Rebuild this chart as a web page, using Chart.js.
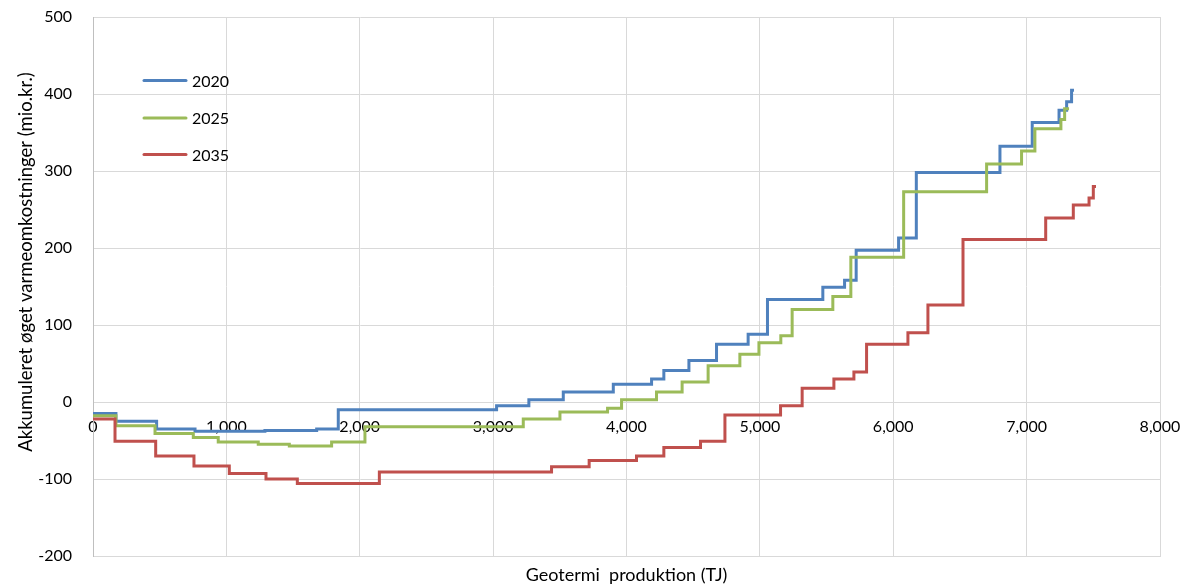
<!DOCTYPE html>
<html>
<head>
<meta charset="utf-8">
<script src="https://cdn.jsdelivr.net/npm/chart.js@4.4.1/dist/chart.umd.min.js"></script>
<style>
  html, body { margin: 0; padding: 0; background: #ffffff; }
  #wrap { width: 1196px; height: 586px; position: relative; }
</style>
</head>
<body>
<div id="wrap"><canvas id="c" width="1196" height="586"></canvas></div>
<script>
// ---- Data ----
const seriesNames = ["2020", "2025", "2035"];
const seriesColors = ["#4F81BD", "#9BBB59", "#C0504D"];

// Step positions (TJ) and the cumulative value reached at each step (mio.kr.)
const x2020 = [0, 172, 477, 765, 1289, 1677, 1839, 3026, 3268, 3526, 3901, 4188, 4280, 4468, 4675, 4912, 5057, 5472, 5635, 5722, 6040, 6173, 6800, 7042, 7243, 7300, 7337, 7355];
const y2020 = [-15, -25, -35, -38, -37, -35, -10, -5, 3, 13, 23, 30, 41, 54, 75, 88, 133, 149, 158, 197, 213, 298, 332, 363, 379, 390, 405, 405];

const x2025 = [0, 172, 465, 752, 939, 1239, 1472, 1789, 2039, 3226, 3501, 3858, 3963, 4225, 4417, 4612, 4850, 4993, 5157, 5242, 5547, 5682, 6078, 6700, 6962, 7062, 7257, 7285, 7318];
const y2025 = [-18, -31, -41, -46, -52, -55, -57, -52, -32, -22, -13, -8, 3, 13, 26, 47, 62, 77, 86, 120, 137, 188, 273, 309, 326, 355, 367, 381, 381];

const x2035 = [0, 165, 470, 757, 1022, 1297, 1532, 2147, 3438, 3720, 4075, 4280, 4555, 4738, 5155, 5317, 5555, 5705, 5800, 6110, 6260, 6523, 7143, 7350, 7468, 7500, 7520];
const y2035 = [-22, -51, -70, -83, -93, -100, -106, -91, -84, -76, -70, -59, -51, -17, -5, 18, 30, 39, 75, 90, 126, 211, 239, 256, 265, 280, 280];

const xTicks = [0, 1000, 2000, 3000, 4000, 5000, 6000, 7000, 8000];
const yTicks = [-200, -100, 0, 100, 200, 300, 400, 500];

const xTitle = "Geotermi  produktion (TJ)";
const yTitle = "Akkumuleret øget varmeomkostninger (mio.kr.)";

// ---- Build ----
const FONT = "Lato, 'Liberation Sans', sans-serif";
const xs = [x2020, x2025, x2035];
const ys = [y2020, y2025, y2035];

const datasets = seriesNames.map((name, i) => ({
  label: name,
  data: xs[i].map((x, j) => ({ x: x, y: ys[i][j] })),
  borderColor: seriesColors[i],
  backgroundColor: seriesColors[i],
  borderWidth: 3,
  pointRadius: 0,
  stepped: 'before',
  fill: false,
  order: 3 - i,
  xAxisID: 'x',
  yAxisID: 'y'
}));

const fmt = v => Number(v).toLocaleString('en-US');

const noPad = s => { s.paddingTop = 0; s.paddingBottom = 0; s.paddingLeft = 0; s.paddingRight = 0; };

const legendPlugin = {
  id: 'insideLegend',
  afterDatasetsDraw(chart) {
    const ctx = chart.ctx;
    const ys0 = [80.5, 118, 154.5];
    ctx.save();
    seriesNames.forEach((name, i) => {
      ctx.strokeStyle = seriesColors[i];
      ctx.lineWidth = 3;
      ctx.lineCap = 'round';
      ctx.beginPath();
      ctx.moveTo(144, ys0[i]);
      ctx.lineTo(186, ys0[i]);
      ctx.stroke();
      ctx.fillStyle = '#000';
      ctx.font = "16px " + FONT;
      ctx.textBaseline = 'middle';
      ctx.textAlign = 'left';
      ctx.fillText(name, 192, ys0[i] + 1);
    });
    ctx.restore();
  }
};

const yTitlePlugin = {
  id: 'yTitleDraw',
  afterDraw(chart) {
    const ctx = chart.ctx;
    ctx.save();
    ctx.translate(26, 262);
    ctx.rotate(-Math.PI / 2);
    ctx.fillStyle = '#000';
    ctx.font = "18.5px " + FONT;
    ctx.textAlign = 'center';
    ctx.textBaseline = 'middle';
    ctx.fillText(yTitle, 0, 0);
    ctx.restore();
  }
};

new Chart(document.getElementById('c'), {
  type: 'line',
  data: { datasets: datasets },
  options: {
    responsive: false,
    animation: false,
    events: [],
    layout: { padding: { top: 17, right: 36, left: 0, bottom: 0 } },
    plugins: {
      legend: { display: false },
      tooltip: { enabled: false },
      title: { display: false }
    },
    scales: {
      x: {
        type: 'linear',
        position: 'bottom',
        min: xTicks[0],
        max: xTicks[xTicks.length - 1],
        afterBuildTicks: s => { s.ticks = xTicks.map(v => ({ value: v })); },
        ticks: { display: false },
        grid: { color: '#d9d9d9', lineWidth: 1, drawTicks: false },
        border: { color: '#d9d9d9' },
        title: {
          display: true,
          text: xTitle,
          color: '#000',
          font: { family: FONT, size: 18 },
          padding: { top: 0, bottom: 0 }
        },
        afterFit: s => { s.height = 30; noPad(s); }
      },
      xt: {
        type: 'linear',
        axis: 'x',
        position: { y: 0 },
        min: xTicks[0],
        max: xTicks[xTicks.length - 1],
        afterBuildTicks: s => { s.ticks = xTicks.map(v => ({ value: v })); },
        ticks: {
          color: '#000',
          font: { family: FONT, size: 16 },
          padding: 15,
          maxRotation: 0,
          callback: v => fmt(v)
        },
        grid: { display: false, drawTicks: false },
        border: { display: true, color: '#d9d9d9' },
        afterFit: s => { s.height = 0; noPad(s); }
      },
      y: {
        type: 'linear',
        position: 'left',
        min: yTicks[0],
        max: yTicks[yTicks.length - 1],
        afterBuildTicks: s => { s.ticks = yTicks.map(v => ({ value: v })); },
        ticks: {
          color: '#000',
          font: { family: FONT, size: 16 },
          padding: 21,
          callback: v => String(v)
        },
        grid: { color: '#d9d9d9', lineWidth: 1, drawTicks: false },
        border: { color: '#bfbfbf' },
        afterFit: s => { s.width = 93; noPad(s); }
      }
    }
  },
  plugins: [legendPlugin, yTitlePlugin]
});
</script>
</body>
</html>
